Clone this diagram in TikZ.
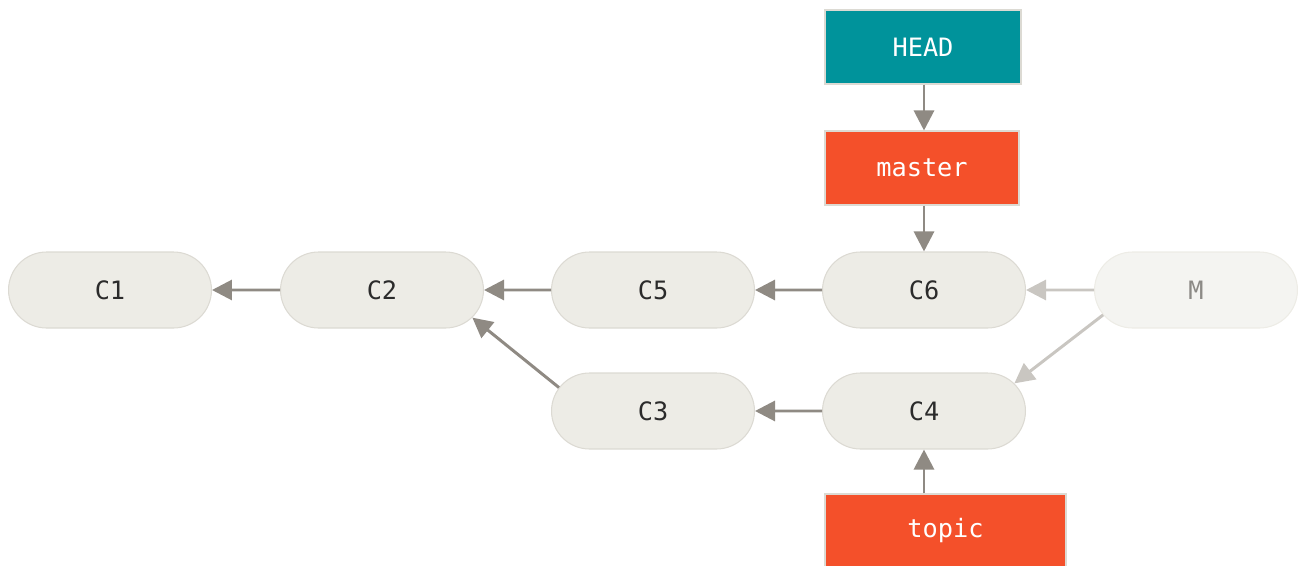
\documentclass[tikz,border=0pt]{standalone}
\usepackage{fontspec}
\setmonofont{DejaVu Sans Mono}
\usepackage{xcolor}
\usetikzlibrary{shapes.misc, arrows.meta, positioning, calc}
\definecolor{GitTeal}{HTML}{00939B}
\definecolor{GitOrange}{HTML}{F4502A}
\definecolor{CommitFill}{HTML}{EDECE6}
\definecolor{CommitLine}{HTML}{DCDAD3}
\definecolor{GhostFill}{HTML}{F4F4F1}
\definecolor{GhostText}{HTML}{8C8A86}
\definecolor{ArrowGray}{HTML}{8F8A83}
\definecolor{ArrowLight}{HTML}{C9C6C1}
\definecolor{CommitText}{HTML}{2B2B2B}
\tikzset{
    commit/.style={
        rounded rectangle,
        draw=CommitLine,
        line width=0.3pt,
        fill=CommitFill,
        minimum width=2.17cm,
        minimum height=0.76cm,
        text=CommitText,
        font=\fontsize{7.2}{8}\selectfont\ttfamily,
        inner sep=2pt
    },
    ghost/.style={
        commit,
        fill=GhostFill,
        draw=CommitFill,
        text=GhostText
    },
    ref/.style={
        draw=CommitLine,
        line width=0.3pt,
        fill=#1,
        minimum height=0.74cm,
        text=white,
        font=\fontsize{7.2}{8}\selectfont\ttfamily,
        inner sep=2pt
    },
    ref/.default=GitOrange,
    arrow/.style={
        -{Triangle[length=0.2cm, width=0.2cm]},
        line width=0.85pt,
        ArrowGray
    },
    lightarrow/.style={
        arrow,
        ArrowLight
    }
}
\begin{document}
\begin{tikzpicture}
        \useasboundingbox (0,0) rectangle (13.01,5.65);
        % Commit nodes
        \node[commit] (c1) at (1.10,2.75) {C1};
        \node[commit] (c2) at (3.82,2.75) {C2};
        \node[commit] (c5) at (6.53,2.75) {C5};
        \node[commit] (c6) at (9.24,2.75) {C6};
        \node[ghost] (m) at (11.96,2.75) {M};
        \node[commit] (c3) at (6.53,1.54) {C3};
        \node[commit] (c4) at (9.24,1.54) {C4};

        % Branch pointers
        \node[ref=GitTeal, minimum width=1.96cm] (head) at (9.23,5.18) {HEAD};
        \node[ref, minimum width=1.94cm] (master) at (9.22,3.97) {master};
        \node[ref, minimum width=2.41cm] (topic) at (9.455,0.34) {topic};

        % Parent links
        \draw[arrow] (c2) -- (c1);
        \draw[arrow] (c5) -- (c2);
        \draw[arrow] (c6) -- (c5);
        \draw[arrow] (c4) -- (c3);
        \draw[arrow] (c3.166) -- (c2.-17);
        \draw[lightarrow] (m) -- (c6);
        \draw[lightarrow] (m.195) -- (c4.17);

        % Pointer arrows
        \draw[arrow] (head.south -| c6) -- (master.north -| c6);
        \draw[arrow] (master.south -| c6) -- (c6.north);
        \draw[arrow] (topic.north -| c4.south) -- (c4.south);
    \end{tikzpicture}
\end{document}
